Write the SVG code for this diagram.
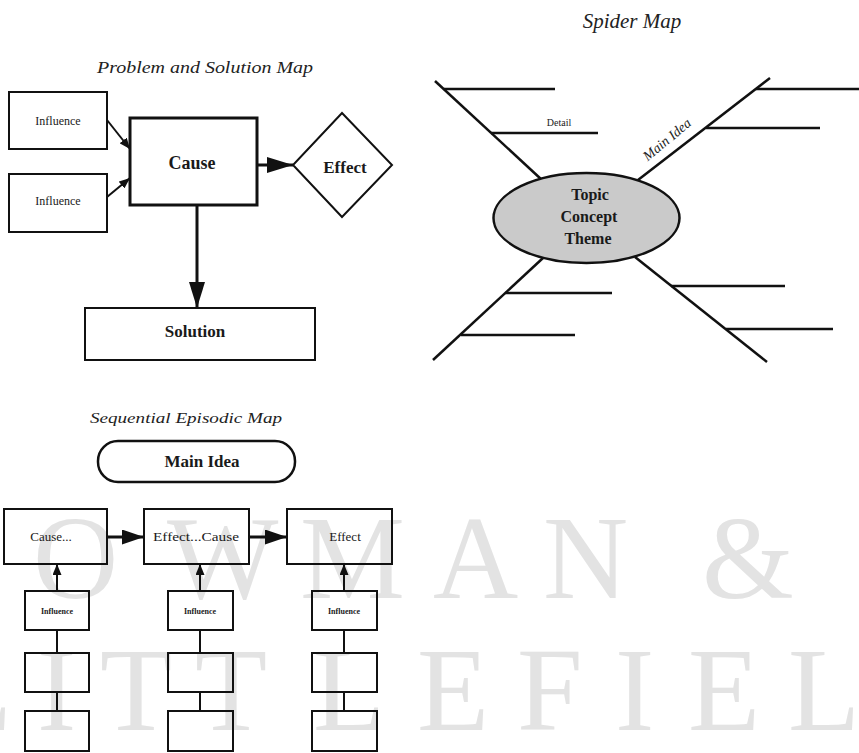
<svg xmlns="http://www.w3.org/2000/svg" width="859" height="753" viewBox="0 0 859 753">
<style>
.bg{fill:#ffffff}
.wm{font-family:"Liberation Serif",serif;font-size:118px;fill:#e3e3e3}
.box{fill:none;stroke:#111;stroke-width:2}
.thick{fill:none;stroke:#111;stroke-width:3}
.ln{stroke:#111;stroke-width:2.5;fill:none}
.con{stroke:#111;stroke-width:3;fill:none}
.con2{stroke:#111;stroke-width:2;fill:none}
.t{font-family:"Liberation Serif",serif;fill:#1a1a1a;text-anchor:middle}
.ti{font-family:"Liberation Serif",serif;font-style:italic;fill:#222;text-anchor:middle}
.b{font-weight:bold}
</style>
<defs>
<marker id="big" markerUnits="userSpaceOnUse" markerWidth="26" markerHeight="16" refX="26" refY="8" orient="auto"><path d="M0,0 L26,8 L0,16 z" fill="#111"/></marker>
<marker id="med" markerUnits="userSpaceOnUse" markerWidth="22" markerHeight="15" refX="22" refY="7.5" orient="auto"><path d="M0,0 L22,7.5 L0,15 z" fill="#111"/></marker>
<marker id="sm" markerUnits="userSpaceOnUse" markerWidth="11" markerHeight="9" refX="11" refY="4.5" orient="auto"><path d="M0,0 L11,4.5 L0,9 z" fill="#111"/></marker>
</defs>
<rect class="bg" x="0" y="0" width="859" height="753"/>
<g id="watermark">
<text class="wm" x="-100 33 167 300 433 543 660 702" y="598">ROWMAN &amp;</text>
<text class="wm" x="-60 37 100 195 313 417 517 615 688 788 880" y="730">LITTLEFIELD</text>
</g>
<g id="problem-solution-map">
<text id="ps-title" class="ti" x="205" y="73" font-size="16" textLength="216" lengthAdjust="spacingAndGlyphs">Problem and Solution Map</text>
<g id="ps-influence1"><rect class="box" x="9" y="92" width="98" height="57"/><text class="t" x="58" y="125" font-size="12">Influence</text></g>
<g id="ps-influence2"><rect class="box" x="9" y="174" width="98" height="58"/><text class="t" x="58" y="205" font-size="12">Influence</text></g>
<g id="ps-cause"><rect class="thick" x="130" y="118" width="127" height="87"/><text class="t b" x="192" y="169" font-size="18">Cause</text></g>
<g id="ps-effect"><polygon class="box" points="342,113 392,165 342,217 293,165"/><text class="t b" x="345" y="173" font-size="17">Effect</text></g>
<g id="ps-solution"><rect class="box" x="85" y="308" width="230" height="52"/><text class="t b" x="195" y="337" font-size="17">Solution</text></g>
<g id="ps-connectors">
<line class="con2" x1="107" y1="120" x2="130" y2="149" marker-end="url(#sm)"/>
<line class="con2" x1="107" y1="197" x2="130" y2="178" marker-end="url(#sm)"/>
<line class="con" x1="257" y1="165" x2="293" y2="165" marker-end="url(#big)"/>
<line class="con" x1="197" y1="205" x2="197" y2="308" marker-end="url(#big)"/>
</g>
</g>
<g id="spider-map">
<text id="sp-title" class="ti" x="632" y="28" font-size="21">Spider Map</text>
<g id="sp-legs">
<line class="ln" x1="435" y1="81" x2="542" y2="180"/>
<line class="ln" x1="444" y1="89" x2="555" y2="89"/>
<line class="ln" x1="491" y1="133" x2="598" y2="133"/>
<line class="ln" x1="638" y1="180" x2="770" y2="78"/>
<line class="ln" x1="756" y1="89" x2="859" y2="89"/>
<line class="ln" x1="706" y1="128" x2="820" y2="128"/>
<line class="ln" x1="543" y1="258" x2="433" y2="360"/>
<line class="ln" x1="505" y1="293" x2="612" y2="293"/>
<line class="ln" x1="461" y1="335" x2="575" y2="335"/>
<line class="ln" x1="635" y1="257" x2="767" y2="362"/>
<line class="ln" x1="671" y1="286" x2="785" y2="286"/>
<line class="ln" x1="726" y1="329" x2="833" y2="329"/>
</g>
<text id="sp-detail" class="t" x="559" y="126" font-size="10">Detail</text>
<text id="sp-mainidea" class="ti" x="0" y="0" font-size="14" transform="translate(670,143) rotate(-40)">Main Idea</text>
<g id="sp-topic">
<ellipse cx="586.5" cy="218" rx="93" ry="45" fill="#cacaca" stroke="#111" stroke-width="2.5"/>
<text class="t b" x="590" y="200" font-size="16">Topic</text>
<text class="t b" x="589" y="222" font-size="16">Concept</text>
<text class="t b" x="588" y="244" font-size="16">Theme</text>
</g>
</g>
<g id="sequential-episodic-map">
<text id="se-title" class="ti" x="186" y="423" font-size="15" textLength="192" lengthAdjust="spacingAndGlyphs">Sequential Episodic Map</text>
<g id="se-mainidea"><rect x="98" y="441" width="197" height="41" rx="20" fill="none" stroke="#111" stroke-width="2.5"/><text class="t b" x="202" y="467" font-size="17">Main Idea</text></g>
<g id="se-cause"><rect class="box" x="4" y="509" width="103" height="55"/><text class="t" x="51" y="541" font-size="13">Cause...</text></g>
<g id="se-effectcause"><rect class="box" x="144" y="509" width="105" height="55"/><text class="t" x="196" y="541" font-size="13" textLength="86" lengthAdjust="spacingAndGlyphs">Effect...Cause</text></g>
<g id="se-effect"><rect class="box" x="287" y="509" width="105" height="55"/><text class="t" x="345" y="541" font-size="13">Effect</text></g>
<g id="se-influence1"><rect class="box" x="25" y="591" width="64" height="39"/><text class="t b" x="57" y="614" font-size="8">Influence</text></g>
<g id="se-influence2"><rect class="box" x="168" y="591" width="65" height="39"/><text class="t b" x="200" y="614" font-size="8">Influence</text></g>
<g id="se-influence3"><rect class="box" x="312" y="591" width="65" height="39"/><text class="t b" x="344" y="614" font-size="8">Influence</text></g>
<g id="se-box1a"><rect class="box" x="25" y="653" width="64" height="39"/></g>
<g id="se-box2a"><rect class="box" x="168" y="653" width="65" height="39"/></g>
<g id="se-box3a"><rect class="box" x="312" y="653" width="65" height="39"/></g>
<g id="se-box1b"><rect class="box" x="25" y="711" width="64" height="40"/></g>
<g id="se-box2b"><rect class="box" x="168" y="711" width="65" height="40"/></g>
<g id="se-box3b"><rect class="box" x="312" y="711" width="65" height="40"/></g>
<g id="se-connectors">
<line class="con" x1="107" y1="537" x2="144" y2="537" marker-end="url(#med)"/>
<line class="con" x1="249" y1="537" x2="287" y2="537" marker-end="url(#med)"/>
<line class="con2" x1="57" y1="591" x2="57" y2="564" marker-end="url(#sm)"/>
<line class="con2" x1="200" y1="591" x2="200" y2="564" marker-end="url(#sm)"/>
<line class="con2" x1="344" y1="591" x2="344" y2="564" marker-end="url(#sm)"/>
<line class="con2" x1="57" y1="630" x2="57" y2="653"/>
<line class="con2" x1="200" y1="630" x2="200" y2="653"/>
<line class="con2" x1="344" y1="630" x2="344" y2="653"/>
<line class="con2" x1="57" y1="692" x2="57" y2="711"/>
<line class="con2" x1="200" y1="692" x2="200" y2="711"/>
<line class="con2" x1="344" y1="692" x2="344" y2="711"/>
</g>
</g>
</svg>
